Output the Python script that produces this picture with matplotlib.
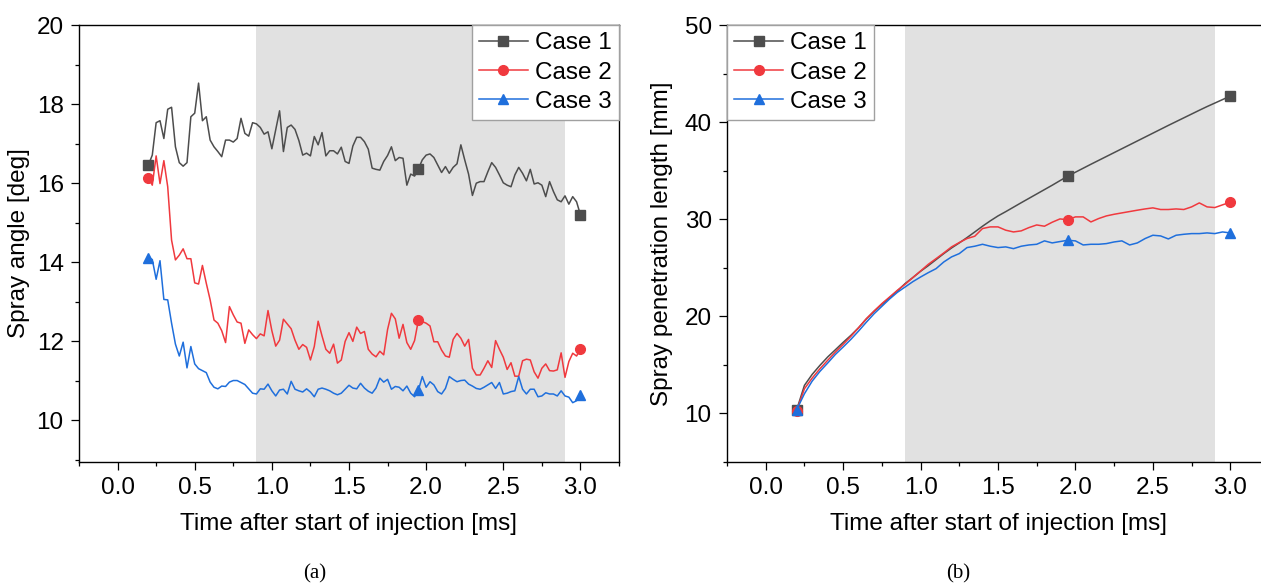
import numpy as np
import matplotlib
matplotlib.use('Agg')
import matplotlib.pyplot as plt
from matplotlib.ticker import MultipleLocator, FormatStrFormatter

plt.rcParams['font.family'] = ['Liberation Sans', 'DejaVu Sans']
plt.rcParams['font.size'] = 17.5

# (a) spray angle, sampled every 0.025 ms from 0.2 to 3.0 ms
t_angle = np.linspace(0.2, 3.0, 113)
angle_case1 = [
    16.46, 16.71, 17.53, 17.58, 17.13, 17.87, 17.92, 16.92, 16.52, 16.43,
    16.52, 17.68, 17.77, 18.53, 17.58, 17.68, 17.09, 16.92, 16.80, 16.67,
    17.09, 17.09, 17.04, 17.13, 17.64, 17.26, 17.19, 17.53, 17.50, 17.41,
    17.24, 17.30, 16.87, 17.35, 17.83, 16.80, 17.41, 17.47, 17.36, 17.08,
    16.71, 16.76, 16.69, 17.18, 16.97, 17.28, 16.69, 16.82, 16.82, 16.74,
    16.91, 16.55, 16.50, 16.94, 17.16, 17.16, 17.05, 16.86, 16.38, 16.35,
    16.33, 16.55, 16.70, 16.92, 16.57, 16.65, 16.63, 15.95, 16.23, 16.18,
    16.36, 16.59, 16.71, 16.74, 16.65, 16.46, 16.27, 16.42, 16.25, 16.40,
    16.49, 16.97, 16.59, 16.23, 15.69, 16.00, 16.04, 16.04, 16.29, 16.52,
    16.40, 16.21, 16.01, 15.95, 15.91, 16.21, 16.40, 16.25, 16.06, 16.35,
    15.98, 16.01, 15.95, 15.66, 16.04, 15.79, 15.58, 15.53, 15.68, 15.47,
    15.66, 15.53, 15.20]
angle_case2 = [
    16.14, 15.95, 16.69, 15.99, 16.57, 15.91, 14.56, 14.06, 14.18, 14.34,
    14.09, 14.09, 13.48, 13.45, 13.92, 13.47, 13.05, 12.54, 12.46, 12.27,
    11.97, 12.88, 12.67, 12.49, 12.46, 11.95, 12.29, 12.17, 12.07, 12.19,
    12.14, 12.78, 12.27, 11.88, 12.03, 12.56, 12.44, 12.32, 12.03, 11.80,
    11.92, 11.85, 11.53, 11.87, 12.51, 12.14, 11.80, 11.70, 11.93, 11.45,
    11.53, 12.00, 12.22, 12.00, 12.36, 12.20, 12.25, 11.80, 11.68, 11.61,
    11.75, 11.66, 12.30, 12.71, 12.57, 12.08, 12.43, 11.97, 11.80, 12.02,
    12.54, 12.50, 12.46, 12.39, 11.99, 11.99, 11.78, 11.63, 11.60, 12.05,
    12.20, 12.08, 11.88, 12.05, 11.32, 11.15, 11.15, 11.32, 11.51, 11.34,
    12.02, 11.80, 11.60, 11.29, 11.46, 11.12, 11.12, 11.51, 11.55, 11.53,
    11.23, 11.07, 11.32, 11.43, 11.26, 11.25, 11.28, 11.71, 11.09, 11.49,
    11.70, 11.63, 11.80]
angle_case3 = [
    14.12, 14.07, 13.57, 14.04, 13.06, 13.05, 12.46, 11.93, 11.63, 11.98,
    11.33, 11.87, 11.43, 11.31, 11.26, 11.21, 10.97, 10.84, 10.80, 10.87,
    10.86, 10.97, 11.01, 11.01, 10.96, 10.91, 10.80, 10.69, 10.67, 10.80,
    10.79, 10.92, 10.75, 10.62, 10.77, 10.79, 10.67, 10.99, 10.79, 10.75,
    10.72, 10.80, 10.72, 10.60, 10.79, 10.82, 10.79, 10.75, 10.69, 10.65,
    10.69, 10.79, 10.89, 10.82, 10.80, 10.94, 10.82, 10.74, 10.69, 10.82,
    11.07, 10.97, 11.04, 10.79, 10.86, 10.84, 10.75, 10.87, 10.69, 10.60,
    10.77, 11.11, 10.84, 10.98, 10.90, 10.73, 10.67, 10.81, 11.11, 11.04,
    10.98, 11.01, 11.02, 10.92, 10.87, 10.81, 10.79, 10.84, 10.90, 10.96,
    10.81, 10.96, 10.67, 10.69, 10.73, 10.75, 11.11, 10.79, 10.67, 10.79,
    10.79, 10.60, 10.62, 10.70, 10.67, 10.67, 10.62, 10.75, 10.62, 10.59,
    10.45, 10.50, 10.65]

# (b) spray penetration length, every 0.05 ms from 0.2 to 3.0 ms
t_pen = np.linspace(0.2, 3.0, 57)
pen_case1 = [
    10.38, 12.89, 14.02, 14.95, 15.81, 16.56, 17.32, 18.04, 18.83, 19.73,
    20.52, 21.24, 21.92, 22.61, 23.37, 23.99, 24.64, 25.22, 25.84, 26.46,
    27.04, 27.56, 28.11, 28.69, 29.28, 29.83, 30.34, 30.78, 31.24, 31.70,
    32.15, 32.60, 33.05, 33.50, 33.97, 34.43, 34.84, 35.25, 35.66, 36.06,
    36.46, 36.86, 37.26, 37.66, 38.06, 38.46, 38.86, 39.26, 39.66, 40.05,
    40.44, 40.83, 41.22, 41.60, 41.96, 42.32, 42.68]
pen_case2 = [
    10.30, 12.54, 13.64, 14.60, 15.47, 16.32, 17.11, 17.94, 18.83, 19.76,
    20.55, 21.31, 21.99, 22.68, 23.30, 23.99, 24.67, 25.36, 25.94, 26.53,
    27.15, 27.60, 28.01, 28.25, 29.04, 29.21, 29.21, 28.87, 28.69, 28.80,
    29.14, 29.41, 29.28, 29.69, 30.03, 29.95, 30.24, 30.24, 29.72, 30.07,
    30.34, 30.51, 30.65, 30.79, 30.93, 31.06, 31.17, 31.00, 31.00, 31.06,
    31.00, 31.27, 31.68, 31.27, 31.20, 31.48, 31.75]
pen_case3 = [
    10.38, 12.03, 13.33, 14.33, 15.19, 16.08, 16.84, 17.63, 18.49, 19.40,
    20.27, 21.03, 21.79, 22.47, 23.02, 23.57, 24.05, 24.50, 24.91, 25.60,
    26.12, 26.46, 27.08, 27.22, 27.42, 27.22, 27.08, 27.15, 26.97, 27.22,
    27.35, 27.42, 27.77, 27.56, 27.70, 27.83, 27.77, 27.35, 27.42, 27.42,
    27.49, 27.66, 27.77, 27.35, 27.56, 28.01, 28.35, 28.28, 27.97, 28.35,
    28.45, 28.52, 28.52, 28.59, 28.52, 28.69, 28.59]

labels = ['Case 1', 'Case 2', 'Case 3']
colors = ['#4d4d4d', '#f0393e', '#1f6fdc']
markers = ['s', 'o', '^']

fig = plt.figure(figsize=(12.61, 5.85), dpi=100)
ax1 = fig.add_axes([79 / 1261, 123 / 585, 540 / 1261, 437 / 585])
ax2 = fig.add_axes([727 / 1261, 123 / 585, 542 / 1261, 437 / 585])


def style(ax):
    ax.axvspan(0.9, 2.9, color='#e1e1e1', lw=0, zorder=0)
    ax.set_xlim(-0.25, 3.25)
    ax.xaxis.set_major_locator(MultipleLocator(0.5))
    ax.xaxis.set_minor_locator(MultipleLocator(0.25))
    ax.xaxis.set_major_formatter(FormatStrFormatter('%.1f'))
    ax.tick_params(which='both', direction='out', width=0.9, top=False, right=False, pad=5)
    ax.tick_params(which='major', length=6)
    ax.tick_params(which='minor', length=3)
    for s in ax.spines.values():
        s.set_linewidth(1.0)
    ax.set_xlabel('Time after start of injection [ms]', labelpad=10)


def legend(ax, loc):
    leg = ax.legend(loc=loc, borderaxespad=0, fancybox=False, edgecolor='#a0a0a0',
                    framealpha=1, handlelength=2.0, handletextpad=0.3,
                    labelspacing=0.3, borderpad=0.3, numpoints=1)
    leg.get_frame().set_linewidth(1.0)


# (a)
for y, lab, c, m in zip([angle_case1, angle_case2, angle_case3], labels, colors, markers):
    ax1.plot(t_angle, y, color=c, lw=1.1, marker=m, ms=7, markevery=[0, 70, 112], label=lab)
style(ax1)
ax1.set_ylim(8.95, 20)
ax1.yaxis.set_major_locator(MultipleLocator(2))
ax1.yaxis.set_minor_locator(MultipleLocator(1))
ax1.set_ylabel('Spray angle [deg]', labelpad=5)
legend(ax1, 'upper right')

# (b)
for y, lab, c, m in zip([pen_case1, pen_case2, pen_case3], labels, colors, markers):
    ax2.plot(t_pen, y, color=c, lw=1.1, marker=m, ms=7, markevery=[0, 35, 56], label=lab)
style(ax2)
ax2.set_ylim(5, 50)
ax2.yaxis.set_major_locator(MultipleLocator(10))
ax2.yaxis.set_minor_locator(MultipleLocator(5))
ax2.set_ylabel('Spray penetration length [mm]', labelpad=8)
legend(ax2, 'upper left')

fig.text(315 / 1261, 11 / 585, '(a)', ha='center', va='center', family='Liberation Serif', fontsize=15)
fig.text(958 / 1261, 11 / 585, '(b)', ha='center', va='center', family='Liberation Serif', fontsize=15)

fig.savefig('out.png', dpi=100)
